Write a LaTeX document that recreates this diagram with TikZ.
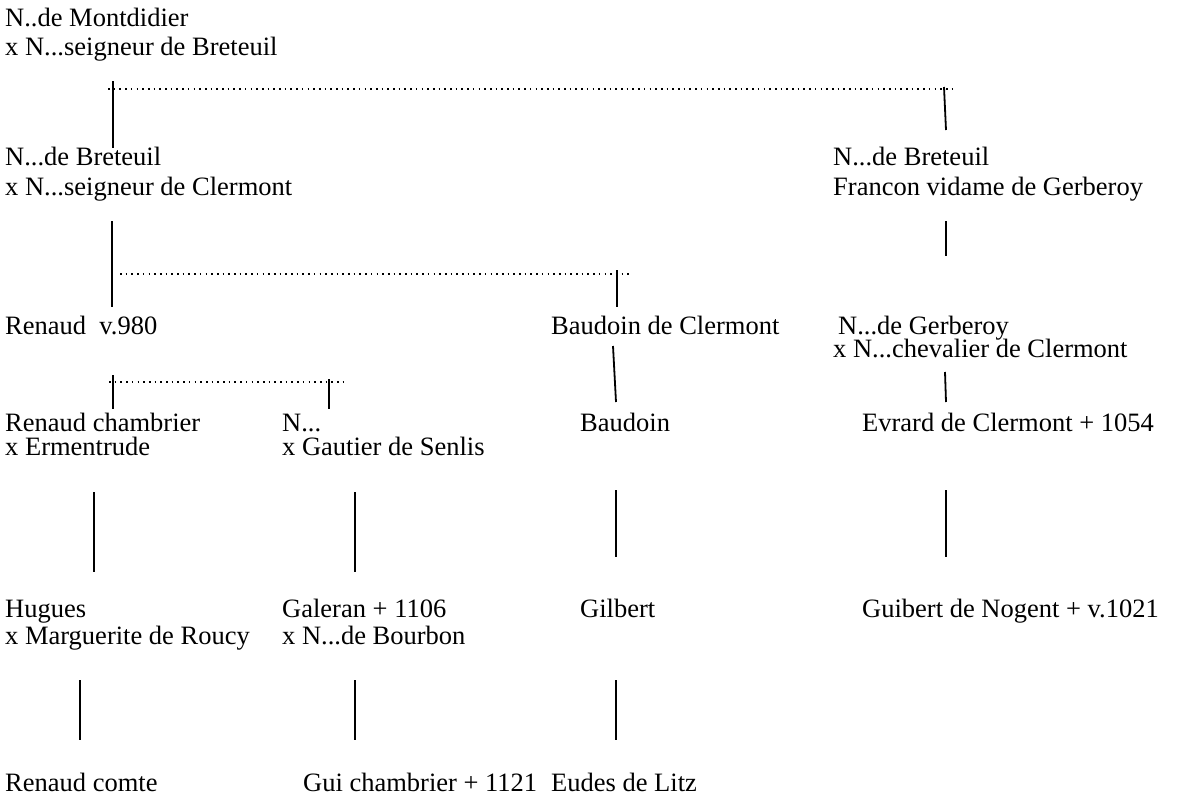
\documentclass[tikz,border=0pt]{standalone}
\usepackage{fontspec}
\setmainfont{Liberation Serif}
\begin{document}
\begin{tikzpicture}[x=1pt,y=-1pt,
  txt/.style={anchor=base west,inner sep=0pt,font=\fontsize{26.5}{30}\selectfont},
  stem/.style={line width=1.8pt},
  dots/.style={line width=2pt,dash pattern=on 1.6pt off 4.1pt}]
\useasboundingbox (0,0) rectangle (1178,801);
% row 1
\node[txt] (a1) at (5,26) {N..de Montdidier};
\node[txt] (a2) at (5,55) {x N...seigneur de Breteuil};
% row 2
\node[txt] (b1) at (5,165) {N...de Breteuil};
\node[txt] (b2) at (5,195) {x N...seigneur de Clermont};
\node[txt] (c1) at (833,165) {N...de Breteuil};
\node[txt] (c2) at (833,195) {Francon vidame de Gerberoy};
% row 3
\node[txt] (r) at (5,334) {Renaud\ \ v.980};
\node[txt] (bc) at (551,334) {Baudoin de Clermont};
\node[txt] (g1) at (838,334) {N...de Gerberoy};
\node[txt] (g2) at (833,357) {x N...chevalier de Clermont};
% row 4
\node[txt] (rc1) at (5,431) {Renaud chambrier};
\node[txt] (rc2) at (5,455) {x Ermentrude};
\node[txt] (n1) at (282,431) {N...};
\node[txt] (n2) at (282,455) {x Gautier de Senlis};
\node[txt] (bd) at (580,431) {Baudoin};
\node[txt] (ev) at (862,431) {Evrard de Clermont + 1054};
% row 5
\node[txt] (h1) at (5,617) {Hugues};
\node[txt] (h2) at (5,644) {x Marguerite de Roucy};
\node[txt] (ga1) at (282,617) {Galeran + 1106};
\node[txt] (ga2) at (282,644) {x N...de Bourbon};
\node[txt] (gi) at (580,617) {Gilbert};
\node[txt] (gu) at (862,617) {Guibert de Nogent + v.1021};
% row 6
\node[txt] (rco) at (5,791) {Renaud comte};
\node[txt] (gc) at (303,791) {Gui chambrier + 1121};
\node[txt] (eu) at (551,791) {Eudes de Litz};
% connector end points
\coordinate (d1s) at (108,89);  \coordinate (d1e) at (952,89);
\coordinate (v1t) at (113,81);  \coordinate (v1b) at (113,148);
\coordinate (v2t) at (944,87);  \coordinate (v2b) at (946,130);
\coordinate (v3t) at (112,221); \coordinate (v3b) at (112,307);
\coordinate (d2s) at (120,274); \coordinate (d2e) at (630,274);
\coordinate (v4t) at (617,270); \coordinate (v4b) at (617,307);
\coordinate (v5t) at (946,221); \coordinate (v5b) at (946,256);
\coordinate (d3s) at (109,382); \coordinate (d3e) at (345,382);
\coordinate (v6t) at (113,375); \coordinate (v6b) at (113,409);
\coordinate (v7t) at (329,379); \coordinate (v7b) at (329,409);
\coordinate (v8t) at (613,346); \coordinate (v8b) at (616,402);
\coordinate (v9t) at (945,372); \coordinate (v9b) at (946,402);
\coordinate (v10t) at (94,492);  \coordinate (v10b) at (94,572);
\coordinate (v11t) at (355,492); \coordinate (v11b) at (355,572);
\coordinate (v12t) at (616,490); \coordinate (v12b) at (616,557);
\coordinate (v13t) at (946,490); \coordinate (v13b) at (946,557);
\coordinate (v14t) at (80,680);  \coordinate (v14b) at (80,740);
\coordinate (v15t) at (355,680); \coordinate (v15b) at (355,740);
\coordinate (v16t) at (616,680); \coordinate (v16b) at (616,740);
% dotted sibling lines
\draw[dots] (d1s) -- (d1e);
\draw[dots] (d2s) -- (d2e);
\draw[dots] (d3s) -- (d3e);
% stems
\foreach \i in {1,...,16} \draw[stem] (v\i t) -- (v\i b);
\end{tikzpicture}
\end{document}
